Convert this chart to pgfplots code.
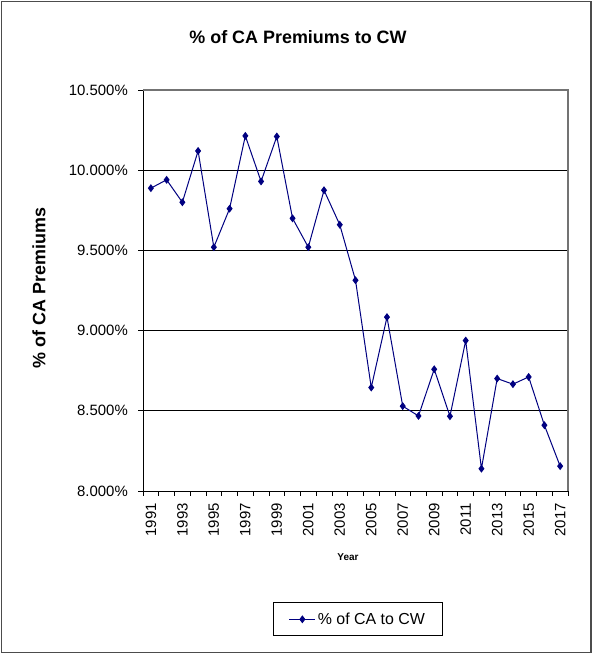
\documentclass[border=0pt]{standalone}
\usepackage{pgfplots}
\pgfplotsset{compat=1.18}
\usepackage{fontspec}
\setmainfont{Liberation Sans}
\definecolor{navy}{RGB}{0,0,128}
\begin{document}
\begin{tikzpicture}[x=1bp,y=1bp]
\path (0,0) rectangle (593,654);
\draw[line width=1.5bp, black!70] (1.5,1.5) rectangle (591,652.5);
\node[font=\fontsize{18}{20}\selectfont\bfseries] at (298,617) {\% of CA Premiums to CW};
\node[rotate=90, font=\fontsize{18}{20}\selectfont\bfseries] at (39,366) {\% of CA Premiums};
\node[font=\fontsize{10}{12}\selectfont\bfseries] at (348,97) {Year};
\begin{axis}[
    scale only axis,
    width=425bp, height=401bp,
    at={(143bp,163bp)}, anchor=south west,
    xmin=1990.5, xmax=2017.5,
    ymin=8, ymax=10.5,
    axis lines*=left,
    axis line style={black, line width=0.8bp},
    tick align=outside,
    major tick length=5bp,
    tick style={black, line width=0.6bp},
    xtick={1990.5,1991.5,...,2017.5},
    xticklabels={},
    extra x ticks={1991,1993,...,2017},
    extra x tick labels={1991,1993,1995,1997,1999,2001,2003,2005,2007,2009,2011,2013,2015,2017},
    extra x tick style={major tick length=0pt, grid=none,
        xticklabel style={rotate=90, anchor=east, font=\fontsize{15}{17}\selectfont, inner sep=0pt, xshift=-12bp}},
    ytick={8,8.5,...,10.5},
    yticklabel={\pgfmathprintnumber[fixed,fixed zerofill,precision=3]{\tick}\%},
    yticklabel style={font=\fontsize{15}{17}\selectfont, inner sep=0pt, xshift=-10bp},
    /pgf/number format/assume math mode=true,
    ymajorgrids,
    grid style={black, line width=0.8bp},
    clip=false,
    legend style={at={(0.5057,-0.32)}, anchor=center, draw=black, line width=0.8bp,
        font=\fontsize{16}{18}\selectfont, inner xsep=15bp, inner ysep=8bp},
    legend image code/.code={
        \draw[#1] (0bp,0bp) -- (26bp,0bp);
        \draw[#1, only marks] plot coordinates {(13bp,0bp)};
    },
]
\addplot[navy, line width=1bp, mark=diamond*, mark size=3.2bp, mark options={fill=navy, draw=navy}]
coordinates {
(1991,9.888) (1992,9.940) (1993,9.800) (1994,10.120) (1995,9.520)
(1996,9.760) (1997,10.214) (1998,9.930) (1999,10.210) (2000,9.700)
(2001,9.520) (2002,9.875) (2003,9.660) (2004,9.314) (2005,8.645)
(2006,9.084) (2007,8.529) (2008,8.468) (2009,8.759) (2010,8.466)
(2011,8.938) (2012,8.139) (2013,8.701) (2014,8.666) (2015,8.711)
(2016,8.410) (2017,8.155)
};
\addlegendentry{\% of CA to CW}
\draw[black!55, line width=1.2bp] (rel axis cs:0,1) -- (rel axis cs:1,1) -- (rel axis cs:1,0);
\end{axis}
\end{tikzpicture}
\end{document}
